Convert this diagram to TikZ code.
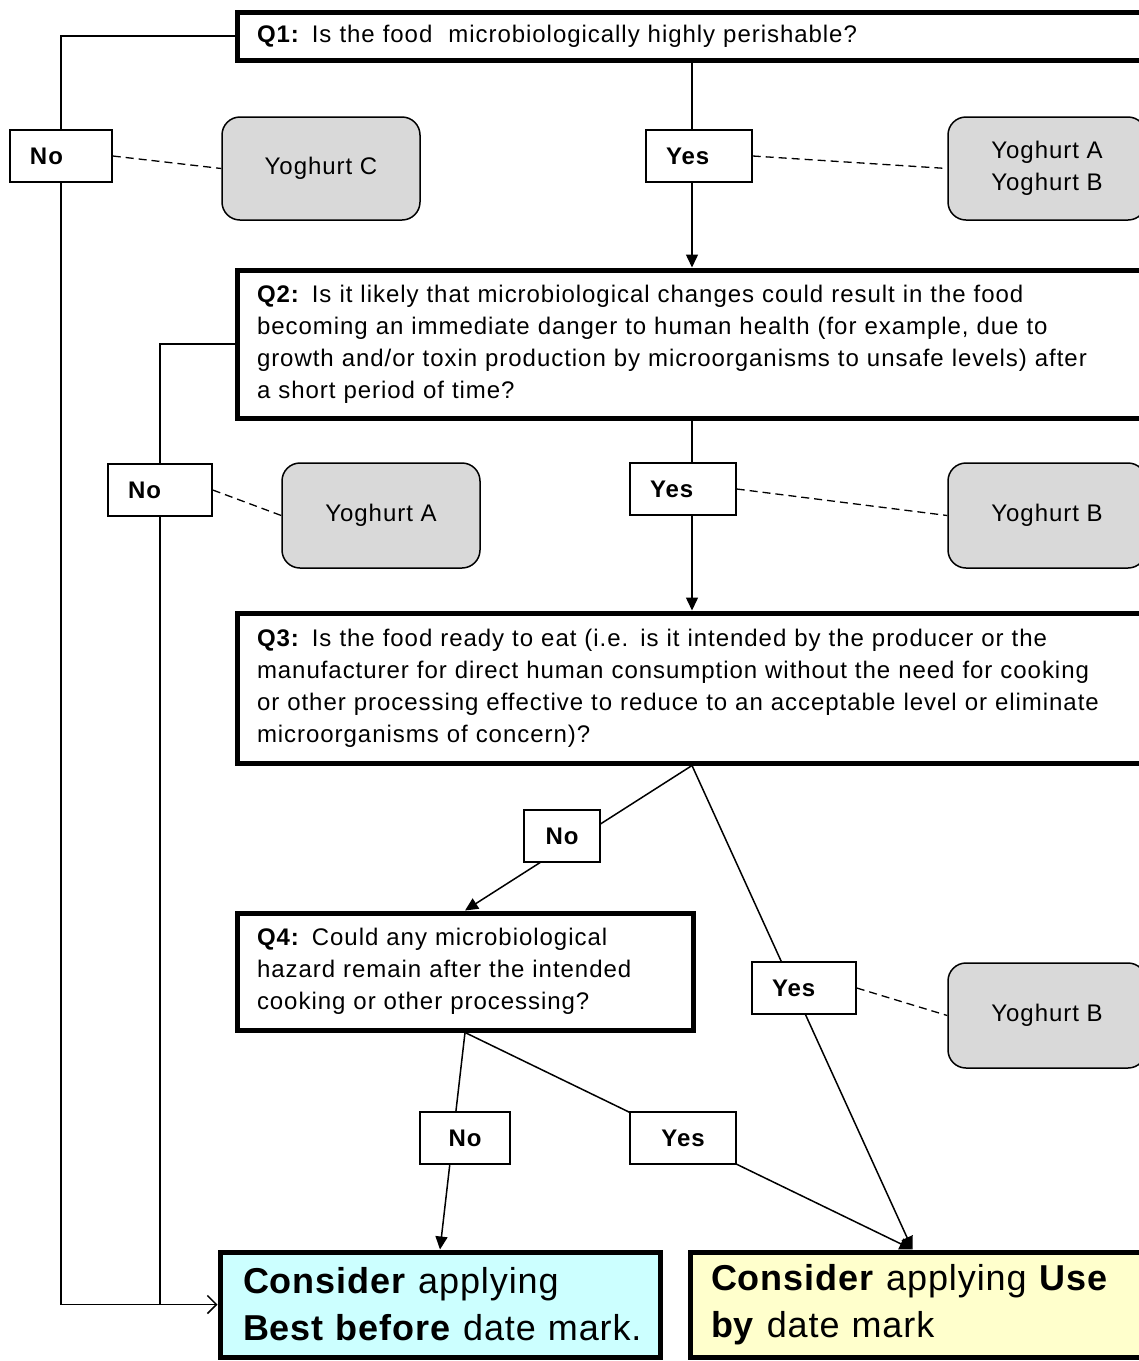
\documentclass[tikz,border=0pt]{standalone}
\usepackage{fontspec}
\setmainfont{Liberation Sans}[LetterSpace=4]
\newfontfamily\bigfont{Liberation Sans}[LetterSpace=2.5, WordSpace=0.5]
\usetikzlibrary{arrows.meta,calc}
\pgfdeclarelayer{bg}
\pgfsetlayers{bg,main}
\definecolor{ygrey}{HTML}{D9D9D9}
\definecolor{bbcyan}{HTML}{CCFFFF}
\definecolor{ubyellow}{HTML}{FFFFCC}
\tikzset{
  qbox/.style={draw, line width=5pt, fill=white, inner xsep=20pt, inner ysep=0pt,
    align=left, font=\fontsize{24}{32}\selectfont},
  lbl/.style={draw, line width=1.5pt, fill=white, minimum height=52pt, inner ysep=0pt,
    font=\bfseries\fontsize{24}{28}\selectfont},
  lblL/.style={lbl, inner xsep=20pt, text width=#1, align=left},
  lblC/.style={lbl, minimum width=#1, align=center},
  ybox/.style={draw, line width=1.5pt, fill=ygrey, rounded corners=18pt, minimum width=198pt,
    align=center, font=\fontsize{24}{32}\selectfont},
  fbox/.style={draw, line width=5pt, inner ysep=0pt, align=left,
    font=\bigfont\fontsize{36}{47}\selectfont},
  conn/.style={line width=1.5pt},
  arr/.style={conn, -{Triangle[length=13pt,width=12pt]}},
  oarr/.style={conn, -{Straight Barb[length=9pt,width=18pt,line width=1.5pt]}},
  dsh/.style={line width=1.3pt, dash pattern=on 8pt off 5pt}
}
\begin{document}
\begin{tikzpicture}[x=1pt,y=-1pt]
\path[use as bounding box] (0,0) rectangle (1139,1361);

% question boxes
\node[qbox, minimum width=910pt, minimum height=48pt, text width=870pt] (q1) at (692,36)
  {\textbf{Q1:} Is the food~ microbiologically highly perishable?};
\node[qbox, minimum width=910pt, minimum height=148pt, text width=870pt] (q2) at (692,344)
  {\textbf{Q2:} Is it likely that microbiological changes could result in the food\\
   becoming an immediate danger to human health (for example, due to\\
   growth and/or toxin production by microorganisms to unsafe levels) after\\
   a short period of time?};
\node[qbox, minimum width=910pt, minimum height=150pt, text width=870pt] (q3) at (692,688)
  {\textbf{Q3:} Is the food ready to eat (i.e. is it intended by the producer or the\\
   manufacturer for direct human consumption without the need for cooking\\
   or other processing effective to reduce to an acceptable level or eliminate\\
   microorganisms of concern)?};
\node[qbox, minimum width=456pt, minimum height=117pt, text width=416pt] (q4) at (465,971.5)
  {\textbf{Q4:} Could any microbiological\\
   hazard remain after the intended\\
   cooking or other processing?};

% final boxes
\node[fbox, fill=bbcyan, minimum width=440pt, minimum height=105pt, inner xsep=23pt,
  text width=394pt] (bb) at (440,1304.5)
  {\mbox{\textbf{Consider} applying}\\ \mbox{\textbf{Best before} date mark.}};
\node[fbox, fill=ubyellow, minimum width=457pt, minimum height=105pt, inner xsep=21pt,
  text width=415pt] (ub) at (918.5,1304.5)
  {\mbox{\textbf{Consider} applying \textbf{Use}}\\ \mbox{\textbf{by} date mark}};

% labels
\node[lblL=62pt] (no1) at (61,156) {No};
\node[lblL=66pt] (yes1) at (699,156) {Yes};
\node[lblL=64pt] (no2) at (160,490) {No};
\node[lblL=66pt] (yes2) at (683,489) {Yes};
\node[lblC=76pt] (no3) at (562,836) {No};
\node[lblL=64pt] (yes3) at (804,988) {Yes};
\node[lblC=90pt] (no4) at (465,1138) {No};
\node[lblC=106pt] (yes4) at (683,1138) {Yes};

% yoghurt boxes
\node[ybox, minimum height=103pt] (yc) at (321,168.5) {Yoghurt C};
\node[ybox, minimum height=103pt] (yab) at (1047,168.5) {Yoghurt A\\Yoghurt B};
\node[ybox, minimum height=105pt] (ya) at (381,515.5) {Yoghurt A};
\node[ybox, minimum height=105pt] (yb2) at (1047,515.5) {Yoghurt B};
\node[ybox, minimum height=105pt] (yb3) at (1047,1015.5) {Yoghurt B};

% dashed links
\draw[dsh] (no1.east) -- (yc.west);
\draw[dsh] (yes1.east) -- (yab.west);
\draw[dsh] (no2.east) -- (ya.west);
\draw[dsh] (yes2.east) -- (yb2.west);
\draw[dsh] (yes3.east) -- (yb3.west);

% connectors
\begin{pgfonlayer}{bg}
\fill[white] (0,0) rectangle (1139,1361);
\draw[oarr] (q1.west) -| (no1.south |- bb.west) -- (bb.west);
\draw[conn] (q2.west) -| (no2.south |- bb.west);
\draw[arr] (q1.south) -- (q2.north);
\draw[arr] (q2.south) -- (q3.north);
\draw[arr] (q3.south) -- (q4.north);
\draw[arr] (q3.south) -- ([xshift=-6pt]ub.north);
\draw[arr] (q4.south) -- (bb.north);
\draw[arr] (q4.south) -- ([xshift=-6pt]ub.north);
\end{pgfonlayer}
\end{tikzpicture}
\end{document}
